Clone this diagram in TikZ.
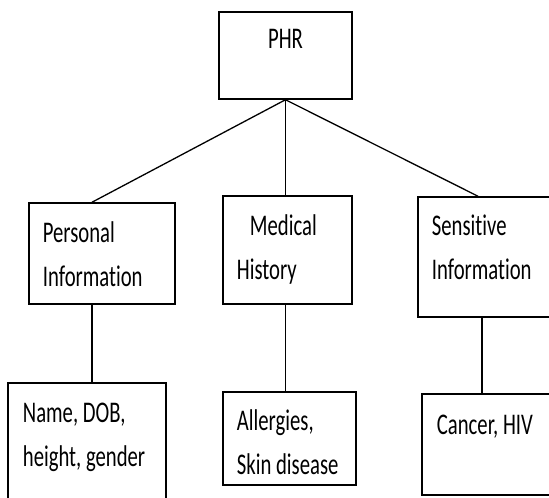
\documentclass[tikz,border=0pt]{standalone}
\usepackage{fontspec}
\newfontfamily\boxfont[FakeStretch=0.69, Ligatures=NoCommon]{Carlito}
\usetikzlibrary{positioning}

\begin{document}
\begin{tikzpicture}[x=1pt, y=1pt, line width=1.3pt,
        box/.style={draw, rectangle, line width=1.5pt, inner sep=0pt},
        txt/.style={anchor=base west, align=left, inner sep=0pt, font=\boxfont\fontsize{30pt}{44pt}\selectfont}]
        \clip (0,0) rectangle (549,498);
        % Boxes
        \node[box, minimum width=133pt, minimum height=87pt] (phr) at (285.5,442.5) {};
        \node[box, minimum width=146pt, minimum height=101pt] (pinfo) at (102,244.5) {};
        \node[box, minimum width=129pt, minimum height=108pt] (med) at (287.5,248) {};
        \node[box, minimum width=142pt, minimum height=120pt] (sens) at (489,241) {};
        \node[box, minimum width=158pt, minimum height=129pt] (name) at (87,50.5) {};
        \node[box, minimum width=133pt, minimum height=93pt] (alg) at (289.5,59.5) {};
        \node[box, minimum width=143pt, minimum height=101pt] (cancer) at (493.5,53.5) {};

        % Texts (base = last line)
        \node[txt, anchor=base] (phrtext) at ([yshift=-37pt]phr.north) {PHR};
        \node[txt] (pinfotext) at ([shift={(14pt,-84pt)}]pinfo.north west) {Personal\\Information};
        \node[txt] (medtext) at ([shift={(14pt,-84pt)}]med.north west) {\hspace*{13pt}Medical\\History};
        \node[txt] (senstext) at ([shift={(14pt,-83pt)}]sens.north west) {Sensitive\\Information};
        \node[txt] (nametext) at ([shift={(15pt,-84pt)}]name.north west) {Name, DOB,\\height, gender};
        \node[txt] (algtext) at ([shift={(14pt,-83pt)}]alg.north west) {Allergies,\\Skin disease};
        \node[txt] (cancertext) at ([shift={(15pt,-41pt)}]cancer.north west) {Cancer, HIV};

        % Lines
        \draw (phr.south) -- ([xshift=-10pt]pinfo.north);
        \draw (phr.south) -- (phr.south |- med.north);
        \draw (phr.south) -- ([xshift=-11pt]sens.north);
        \draw ([xshift=-10pt]pinfo.south) -- ([xshift=-10pt]pinfo.south |- name.north);
        \draw ([xshift=-2pt]med.south) -- ([xshift=-2pt]med.south |- alg.north);
        \draw ([xshift=-7pt]sens.south) -- ([xshift=-7pt]sens.south |- cancer.north);
    \end{tikzpicture}
\end{document}
